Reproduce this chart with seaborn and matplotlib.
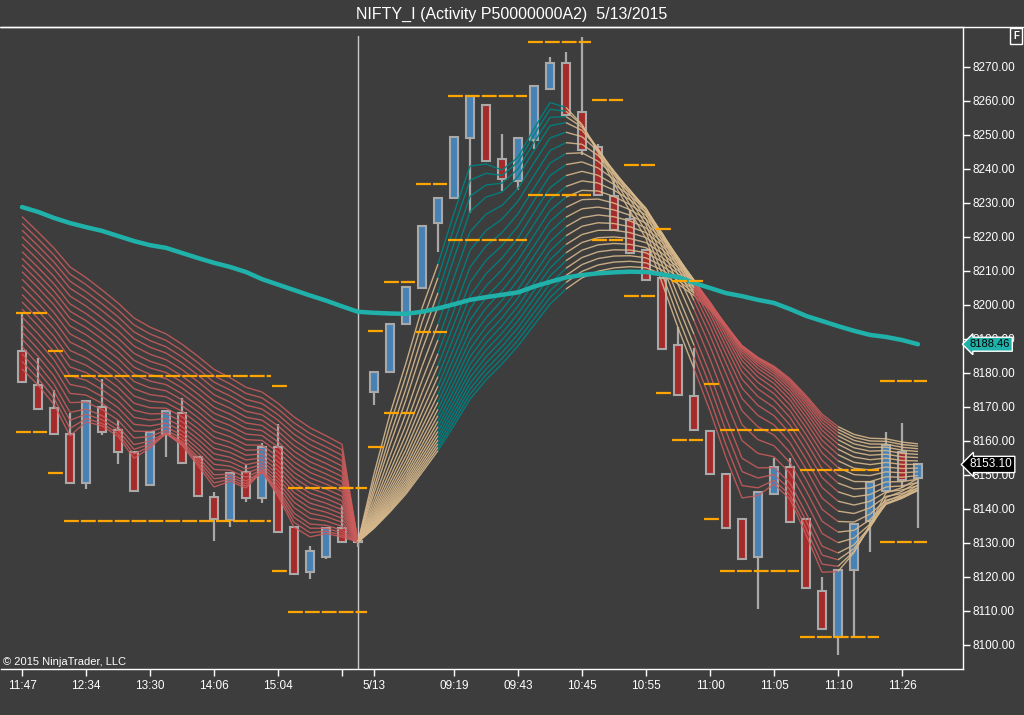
import numpy as np
import matplotlib
matplotlib.use("Agg")
import matplotlib.pyplot as plt
import seaborn as sns
from matplotlib.collections import LineCollection
from matplotlib.lines import Line2D

# ---------------- data ----------------
opens = [8186.6, 8176.5, 8169.8, 8162.1, 8147.5, 8170.1, 8163.2, 8156.9, 8147.0, 8162.0,
         8168.3, 8155.4, 8143.6, 8136.8, 8151.0, 8143.2, 8158.3, 8134.6, 8121.4, 8126.0,
         8134.5, 8130.5,
         8174.5, 8180.4, 8194.4, 8205.1, 8224.2, 8231.4, 8249.0, 8258.8, 8242.8, 8236.5,
         8248.5, 8263.4, 8271.1, 8256.9, 8246.4, 8232.2, 8225.4, 8216.2, 8207.9, 8188.2,
         8173.3, 8163.0, 8150.3, 8137.2, 8126.0, 8144.4, 8152.4, 8137.2, 8115.8, 8102.3,
         8122.0, 8136.4, 8145.3, 8156.8, 8149.0]
highs = [8197.6, 8184.3, 8175.0, 8168.3, 8172.0, 8178.2, 8166.2, 8157.0, 8162.5, 8169.0,
         8172.6, 8155.4, 8145.1, 8150.7, 8153.0, 8159.4, 8165.0, 8134.6, 8129.2, 8134.3,
         8141.0, 8130.6,
         8180.4, 8194.4, 8205.4, 8223.2, 8231.6, 8249.5, 8261.6, 8258.8, 8250.2, 8249.0,
         8264.5, 8272.9, 8274.3, 8278.7, 8247.4, 8237.3, 8227.9, 8216.2, 8207.9, 8193.6,
         8187.3, 8163.0, 8150.3, 8137.2, 8145.0, 8155.1, 8154.9, 8137.2, 8119.9, 8122.0,
         8135.5, 8148.0, 8162.7, 8165.2, 8153.6]
lows = [8177.4, 8169.4, 8162.1, 8147.7, 8146.0, 8161.7, 8153.2, 8145.3, 8147.0, 8155.4,
        8153.4, 8143.8, 8130.7, 8134.6, 8142.2, 8141.9, 8133.1, 8120.9, 8119.3, 8125.4,
        8130.2, 8128.9,
        8170.6, 8180.4, 8194.4, 8205.1, 8215.7, 8231.4, 8227.0, 8242.4, 8233.6, 8233.8,
        8245.8, 8263.4, 8255.9, 8244.1, 8232.4, 8222.1, 8215.4, 8207.4, 8187.1, 8173.5,
        8163.2, 8150.3, 8134.5, 8125.4, 8110.5, 8144.4, 8136.2, 8116.8, 8104.8, 8097.1,
        8102.4, 8127.4, 8145.3, 8146.1, 8134.5]
closes = [8177.4, 8169.4, 8162.1, 8147.7, 8171.8, 8162.7, 8156.7, 8145.3, 8162.5, 8168.8,
          8153.4, 8143.8, 8137.0, 8150.7, 8143.2, 8158.3, 8133.1, 8120.9, 8127.5, 8134.3,
          8130.2, 8130.3,
          8180.4, 8194.4, 8205.4, 8223.2, 8231.6, 8249.5, 8261.6, 8242.4, 8237.0, 8249.0,
          8264.5, 8271.1, 8255.9, 8245.6, 8232.4, 8222.1, 8215.4, 8207.4, 8187.1, 8173.5,
          8163.2, 8150.3, 8134.5, 8125.4, 8145.0, 8152.4, 8136.2, 8116.8, 8104.8, 8122.0,
          8135.5, 8147.8, 8158.8, 8148.5, 8153.1]

ma_line = [8228.8, 8227.4, 8225.6, 8224.1, 8222.9, 8221.8, 8220.3, 8218.8, 8217.6, 8216.8,
           8215.3, 8213.8, 8212.4, 8211.2, 8209.7, 8207.6, 8206.0, 8204.4, 8202.8, 8201.3,
           8199.6, 8198.0, 8197.7, 8197.5, 8197.4, 8198.0, 8199.0, 8200.2, 8201.5, 8202.3,
           8203.0, 8203.7, 8205.4, 8206.8, 8208.1, 8208.8, 8209.3, 8209.6, 8209.8, 8209.7,
           8209.0, 8208.2, 8206.5, 8205.0, 8203.5, 8202.6, 8201.5, 8200.6, 8198.8, 8196.8,
           8195.3, 8193.8, 8192.4, 8191.2, 8190.6, 8189.7, 8188.46]

tick_pos = [0, 4, 8, 12, 16, 20, 22, 27, 31, 35, 39, 43, 47, 51, 55]
tick_labels = ["11:47", "12:34", "13:30", "14:06", "15:04", "", "5/13", "09:19", "09:43",
               "10:45", "10:55", "11:00", "11:05", "11:10", "11:26"]
price_ticks = [8100, 8110, 8120, 8130, 8140, 8150, 8160, 8170, 8180, 8190,
               8200, 8210, 8220, 8230, 8240, 8250, 8260, 8270]

level_start = [0, 2, 3, 16, 17, 22, 23, 25, 27, 32, 36, 38, 40, 41, 43, 44, 49, 54]
level_end = [1, 2, 15, 16, 21, 22, 24, 26, 31, 35, 37, 39, 40, 42, 43, 48, 53, 56]
level_upper = [8197.7, 8186.6, 8179.1, 8176.2, 8146.3, 8192.4, 8206.9, 8235.6, 8261.6,
               8277.4, 8260.3, 8241.2, 8222.4, 8207.1, 8176.8, 8163.2, 8151.5, 8177.7]
level_lower = [8162.5, 8150.7, 8136.6, 8121.9, 8109.8, 8158.3, 8168.3, 8192.2, 8219.1,
               8232.4, 8219.1, 8202.7, 8174.2, 8160.3, 8137.2, 8121.8, 8102.4, 8130.4]

# ribbon of moving averages: value at first bar (slow -> fast) and periods
fan_start = [8226.0, 8224.0, 8222.0, 8220.1, 8217.9, 8215.7, 8213.7, 8211.8, 8209.8, 8207.6,
             8205.4, 8203.1, 8200.9, 8198.8, 8196.5, 8194.3, 8192.1, 8190.0, 8187.8, 8185.6,
             8183.4, 8181.2]
fan_periods = [24, 23, 22, 21, 20, 19, 18, 17, 16, 15, 14, 13, 12, 11, 10, 9, 8, 7, 6,
               5.3, 4.6, 4]
# ribbon state per bar: -1 bearish, 0 neutral, 1 bullish
fan_regime = [-1] * 22 + [0] * 5 + [1] * 8 + [0] * 8 + [-1] * 9 + [0] * 5
session_start = 21

current_price = 8153.10
ma_last = 8188.46

# ---------------- style ----------------
bg = "#3d3d3d"
sns.set_theme(style="dark", rc={"axes.facecolor": bg, "figure.facecolor": bg,
                                "axes.grid": False})
plt.rcParams["font.family"] = ["Liberation Sans", "DejaVu Sans"]

fig = plt.figure(figsize=(10.24, 7.15), dpi=100)
ax = fig.add_axes([1 / 1024, 46 / 715, 962 / 1024, 642 / 715])
ax.set_facecolor(bg)

n = len(closes)
x = np.arange(n)
o = np.array(opens); c = np.array(closes)
h = np.array(highs); l = np.array(lows)

# wicks and bodies
ax.vlines(x, l, h, color="#a9a9a9", lw=1.6, zorder=2)
up = c >= o
body_bottom = np.minimum(o, c)
body_h = np.abs(c - o)
ax.bar(x[up], body_h[up], bottom=body_bottom[up], width=0.46, color="#4682b4",
       edgecolor="#a9a9a9", linewidth=1.5, zorder=3)
ax.bar(x[~up], body_h[~up], bottom=body_bottom[~up], width=0.46, color="#a52a2a",
       edgecolor="#a9a9a9", linewidth=1.5, zorder=3)

# ribbon
fan = np.zeros((len(fan_periods), n))
for k, p in enumerate(fan_periods):
    a = 2.0 / (p + 1.0)
    v = fan_start[k]
    for i in range(n):
        if i == 0:
            v = fan_start[k]
        elif i == session_start:
            v = closes[i]
        else:
            v = v + a * (closes[i] - v)
        fan[k, i] = v

state_colors = {-1: (0.80, 0.36, 0.36, 0.85), 0: (0.84, 0.72, 0.55, 0.9),
                1: (0.0, 0.50, 0.50, 0.95)}
segs, cols = [], []
for k in range(len(fan_periods)):
    for i in range(1, n):
        segs.append([(i - 1, fan[k, i - 1]), (i, fan[k, i])])
        cols.append(state_colors[fan_regime[i]])
ax.add_collection(LineCollection(segs, colors=cols, linewidths=1.0, zorder=4))

# moving average
sns.lineplot(x=x, y=ma_line, ax=ax, color="#20b2aa", lw=3.2, zorder=5)

# levels
for s, e, u, lo in zip(level_start, level_end, level_upper, level_lower):
    for yv in (u, lo):
        ax.hlines(yv, s - 0.38, e + 0.58, colors="#ffa500", lw=1.6,
                  linestyles=(0, (6.7, 0.9)), zorder=6)

# session separator
ax.axvline(session_start, ymax=0.986, color="#c8c8c8", lw=1.0, zorder=1)

# axes
ax.set_xlim(-1.3125, 58.8125)
ax.set_ylim(8092.94, 8281.76)
ax.yaxis.tick_right()
ax.set_yticks(price_ticks)
ax.set_yticklabels([f"{t:.2f}" for t in price_ticks])
ax.set_xticks(tick_pos)
ax.set_xticklabels(tick_labels)
ax.tick_params(axis="y", direction="out", length=5, width=1, colors="white",
               labelsize=8.5, pad=2, right=True, left=False)
ax.tick_params(axis="x", direction="out", length=5, width=1, colors="white",
               labelsize=8.5, pad=3, bottom=True)
ax.spines["left"].set_visible(False)
for sp in ("bottom", "right", "top"):
    ax.spines[sp].set_color("white")
    ax.spines[sp].set_linewidth(1.0)
ax.set_xlabel("")
ax.set_ylabel("")

# top border across full width
fig.add_artist(Line2D([0, 1], [(715 - 27) / 715] * 2, color="white", lw=1.0))

# price tags (drawn over the axis labels, as in the platform)
ax.annotate(f"{ma_last:.2f}", xy=(1.0, ma_last), xycoords=("axes fraction", "data"),
            xytext=(5, 0), textcoords="offset points", ha="left", va="center",
            fontsize=8, color="black", annotation_clip=False, zorder=10,
            bbox=dict(boxstyle="larrow,pad=0.18", fc="#20b2aa", ec="white", lw=1))
ax.annotate(f"{current_price:.2f}", xy=(1.0, current_price), xycoords=("axes fraction", "data"),
            xytext=(5, 0), textcoords="offset points", ha="left", va="center",
            fontsize=8.5, color="white", annotation_clip=False, zorder=10,
            bbox=dict(boxstyle="larrow,pad=0.18", fc="black", ec="white", lw=1))

# texts
fig.text(0.5, (715 - 14) / 715, "NIFTY_I (Activity P50000000A2)  5/13/2015",
         ha="center", va="center", fontsize=11.5, color="white")
fig.text(3 / 1024, (715 - 662) / 715, "© 2015 NinjaTrader, LLC", ha="left",
         va="center", fontsize=8, color="white")
fig.text(1016 / 1024, (715 - 36) / 715, "F", ha="center", va="center", fontsize=7,
         color="white", fontweight="bold",
         bbox=dict(boxstyle="square,pad=0.3", fc=bg, ec="white", lw=1))

fig.savefig("out.png", dpi=100, facecolor=bg)
